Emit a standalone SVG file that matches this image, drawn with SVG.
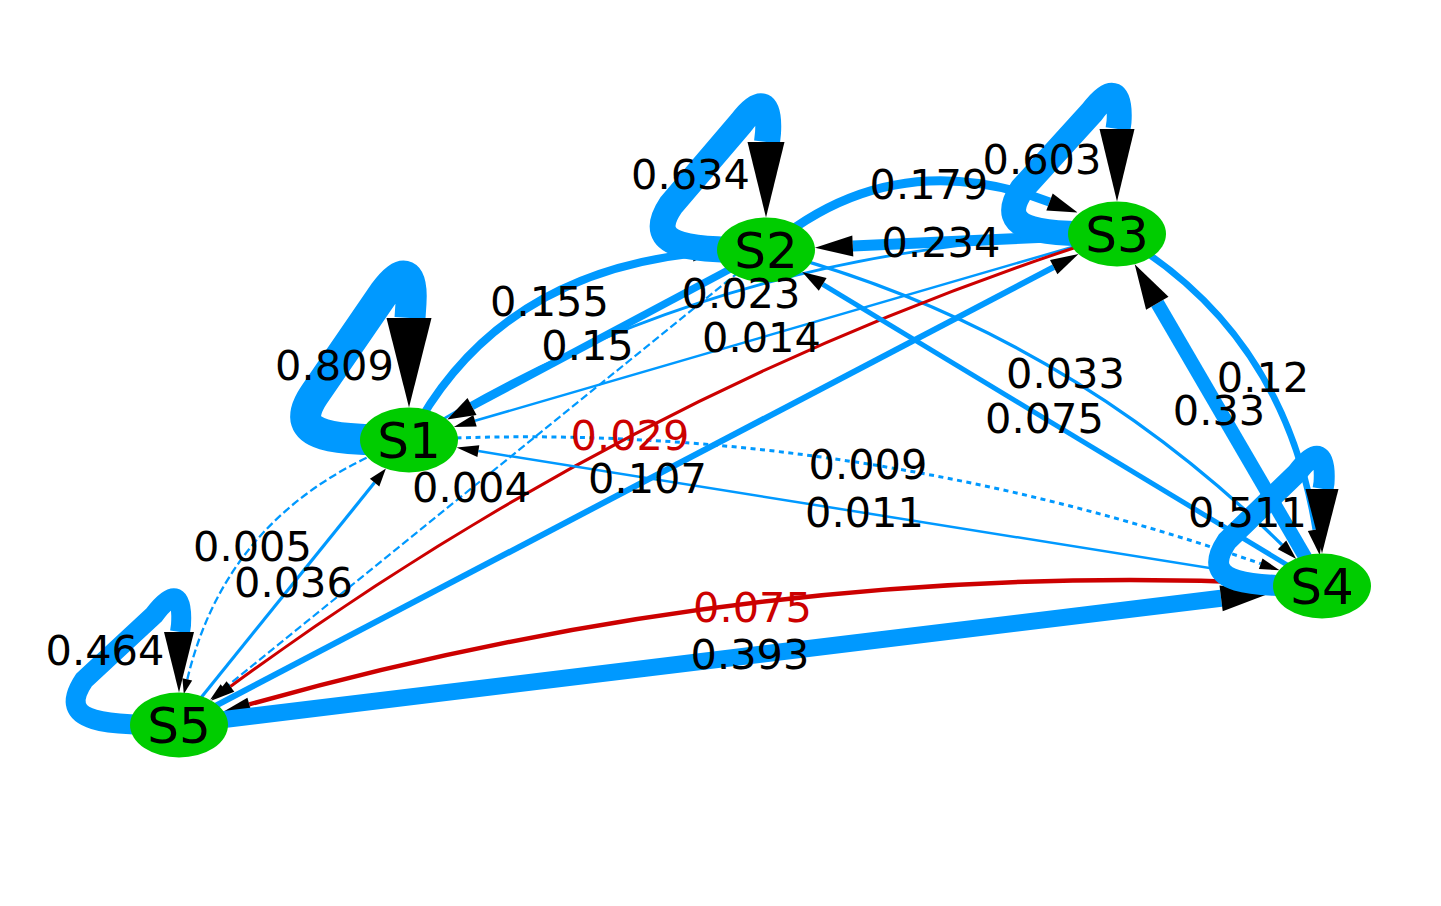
<svg xmlns="http://www.w3.org/2000/svg" width="1441" height="906" viewBox="0 0 1441 906">
<style>
.b{fill:none;stroke:#0099ff;stroke-linejoin:round}
.r{fill:none;stroke:#cc0000;stroke-linejoin:round}
.ah{fill:#000}
.dash{stroke-dasharray:8 3.5}
.dot{stroke-dasharray:5 4.5}
.nd{fill:#00cc00}
.nl{font-family:"DejaVu Sans",sans-serif;font-size:50px;text-anchor:middle;fill:#000}
.el{font-family:"DejaVu Sans",sans-serif;font-size:41.5px;text-anchor:middle;fill:#000}
.elr{fill:#cc0000}
</style>
<rect width="1441" height="906" fill="#fff"/>
<g id="connectors">
<g id="e-S1-S2"><path class="b" stroke-width="8" d="M409,440 Q493.6,275.9 692.5,253.5"/><polygon class="ah" points="717.3,250.7 693.4,261.4 691.6,245.6"/></g>
<g id="e-S1-S3"><path class="b" stroke-width="2.8" d="M409,440 Q692.2,260 1048.7,237"/><polygon class="ah" points="1068.7,235.7 1049.1,243 1048.3,231"/></g>
<g id="e-S1-S4"><path class="b dot" stroke-width="3" d="M409,440 Q839.2,416.7 1260.7,563.7"/><polygon class="ah" points="1279.6,570.3 1258.9,568.9 1262.5,558.5"/></g>
<g id="e-S1-S5"><path class="b dash" stroke-width="2.3" d="M409,440 Q228.7,505.3 187.3,679.4"/><polygon class="ah" points="183.8,694 192.2,680.6 182.4,678.2"/></g>
<g id="e-S2-S1"><path class="b" stroke-width="7.5" d="M766,250 L472,406.5"/><polygon class="ah" points="447.2,419.6 476.5,415 467.5,398"/></g>
<g id="e-S2-S3"><path class="b" stroke-width="9" d="M766,250 Q890.6,142.4 1049.5,202"/><polygon class="ah" points="1077.6,212.5 1046.3,210.4 1052.7,193.6"/></g>
<g id="e-S2-S4"><path class="b" stroke-width="3.3" d="M766,250 Q1060.9,326.9 1282,544.9"/><polygon class="ah" points="1296.2,558.9 1277.8,549.2 1286.2,540.6"/></g>
<g id="e-S2-S5"><path class="b dash" stroke-width="2.2" d="M766,250 L224.1,688.5"/><polygon class="ah" points="210.1,699.8 227.6,692.8 220.6,684.2"/></g>
<g id="e-S3-S1"><path class="b" stroke-width="2.5" d="M1117,234 L475,420.8"/><polygon class="ah" points="453.8,427 476.7,426.6 473.3,415"/></g>
<g id="e-S3-S2"><path class="b" stroke-width="11" d="M1117,234 L852.8,246"/><polygon class="ah" points="814.9,247.8 853.3,256.5 852.3,235.5"/></g>
<g id="e-S3-S4"><path class="b" stroke-width="6.5" d="M1117,234 Q1283.6,330.7 1315.7,529.6"/><polygon class="ah" points="1319.8,555.3 1307.8,530.9 1323.6,528.3"/></g>
<g id="e-S3-S5"><path class="r" stroke-width="3" d="M1117,234 Q643.6,383.2 230.4,686.5"/><polygon class="ah" points="211.1,700.7 234.3,691.7 226.6,681.3"/></g>
<g id="e-S4-S1"><path class="b" stroke-width="2.5" d="M1322,586 L478.3,451.1"/><polygon class="ah" points="456.6,447.6 477.4,457 479.3,445.2"/></g>
<g id="e-S4-S2"><path class="b" stroke-width="5" d="M1322,586 L822.7,284.3"/><polygon class="ah" points="802.2,271.9 818.8,290.7 826.6,277.9"/></g>
<g id="e-S4-S3"><path class="b" stroke-width="14" d="M1322,586 L1157.3,303.2"/><polygon class="ah" points="1134.7,264.3 1146.1,309.7 1168.5,296.7"/></g>
<g id="e-S4-S5"><path class="r" stroke-width="4.5" d="M1322,586 Q788.3,552.7 249.3,704.4"/><polygon class="ah" points="223.3,711.7 251.2,711.1 247.4,697.7"/></g>
<g id="e-S5-S1"><path class="b" stroke-width="3.2" d="M179,725 L374.6,482.6"/><polygon class="ah" points="385.9,468.6 379.3,486.4 369.9,478.8"/></g>
<g id="e-S5-S3"><path class="b" stroke-width="6" d="M179,725 L1053.7,267.1"/><polygon class="ah" points="1078.5,254.1 1057.4,274.2 1050,260"/></g>
<g id="e-S5-S4"><path class="b" stroke-width="17" d="M179,725 L1221.1,598.3"/><polygon class="ah" points="1273.8,591.9 1222.7,611.2 1219.5,585.4"/></g>
<g id="loop-S1" transform="translate(409,440)"><path class="b" stroke-width="31" d="M0,0 C-70,0 -125,0 -95,-45 L-25,-147 C-5,-174 4,-167 2,-137 L1,-122"/><polygon class="ah" points="-22.5,-122 22.5,-122 0,-32.5"/></g>
<g id="loop-S2" transform="translate(766,250)"><path class="b" stroke-width="26" d="M0,0 C-70,0 -125,0 -95,-45 L-25,-127 C-5,-154 4,-147 2,-117 L1,-108"/><polygon class="ah" points="-18.5,-108 18.5,-108 0,-32.5"/></g>
<g id="loop-S3" transform="translate(1117,234)"><path class="b" stroke-width="25" d="M0,0 C-70,0 -125,0 -95,-45 L-25,-122 C-5,-149 4,-142 2,-112 L1,-105"/><polygon class="ah" points="-17.5,-105 17.5,-105 0,-32.5"/></g>
<g id="loop-S4" transform="translate(1322,586)"><path class="b" stroke-width="21" d="M0,0 C-70,0 -125,0 -95,-45 L-25,-113 C-5,-140 4,-133 2,-103 L1,-97"/><polygon class="ah" points="-16.5,-97 16.5,-97 0,-32.5"/></g>
<g id="loop-S5" transform="translate(179,725)"><path class="b" stroke-width="20" d="M0,0 C-70,0 -125,0 -95,-45 L-25,-110 C-5,-137 4,-130 2,-100 L1,-93"/><polygon class="ah" points="-15,-93 15,-93 0,-32.5"/></g>
</g>
<g id="S1"><ellipse class="nd" cx="409" cy="440" rx="49" ry="32.5"/><text class="nl" x="409" y="458">S1</text></g>
<g id="S2"><ellipse class="nd" cx="766" cy="250" rx="49" ry="32.5"/><text class="nl" x="766" y="268">S2</text></g>
<g id="S3"><ellipse class="nd" cx="1117" cy="234" rx="49" ry="32.5"/><text class="nl" x="1117" y="252">S3</text></g>
<g id="S4"><ellipse class="nd" cx="1322" cy="586" rx="49" ry="32.5"/><text class="nl" x="1322" y="604">S4</text></g>
<g id="S5"><ellipse class="nd" cx="179" cy="725" rx="49" ry="32.5"/><text class="nl" x="179" y="743">S5</text></g>
<g id="labels">
<text class="el" x="334.5" y="380">0.809</text>
<text class="el" x="690.5" y="189">0.634</text>
<text class="el" x="1042" y="174">0.603</text>
<text class="el" x="1247.5" y="527">0.511</text>
<text class="el" x="105" y="665">0.464</text>
<text class="el elr" x="630" y="450">0.029</text>
<text class="el" x="549.5" y="316">0.155</text>
<text class="el" x="587.5" y="360">0.15</text>
<text class="el" x="761.5" y="352">0.014</text>
<text class="el" x="741" y="307.5">0.023</text>
<text class="el" x="647.5" y="493">0.107</text>
<text class="el" x="471.5" y="502">0.004</text>
<text class="el" x="1065.5" y="387.5">0.033</text>
<text class="el" x="1044.5" y="433">0.075</text>
<text class="el" x="868" y="479">0.009</text>
<text class="el" x="864.5" y="527">0.011</text>
<text class="el" x="252.5" y="561">0.005</text>
<text class="el" x="293.5" y="597">0.036</text>
<text class="el elr" x="752.5" y="622">0.075</text>
<text class="el" x="750" y="669">0.393</text>
<text class="el" x="929" y="199">0.179</text>
<text class="el" x="941" y="257">0.234</text>
<text class="el" x="1263" y="392">0.12</text>
<text class="el" x="1219" y="425">0.33</text>
</g>
</svg>
